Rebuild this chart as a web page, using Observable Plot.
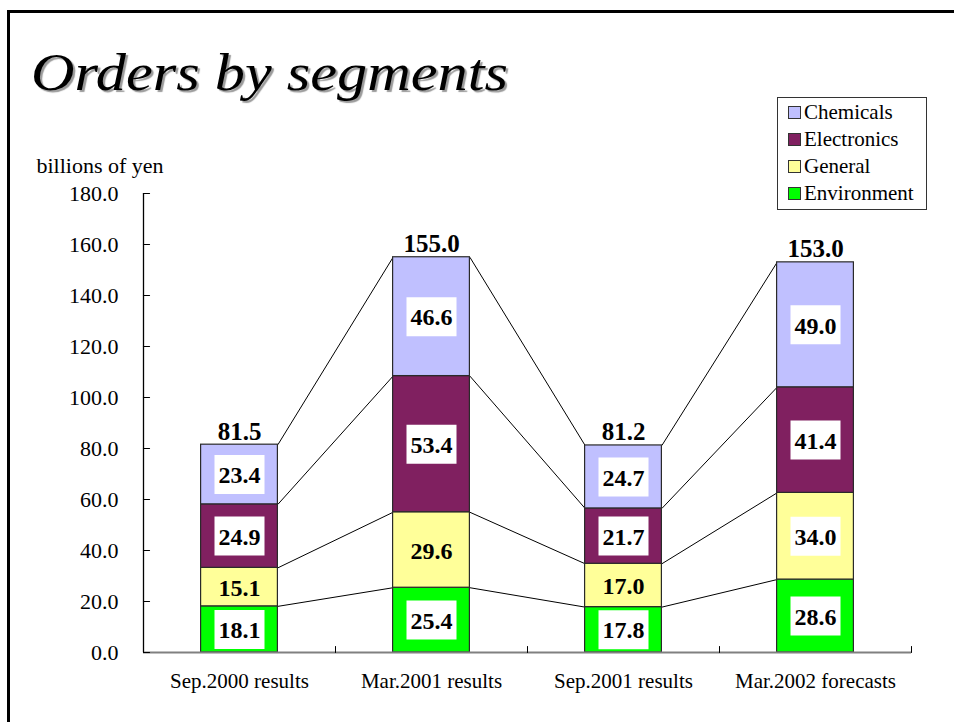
<!DOCTYPE html>
<html>
<head>
<meta charset="utf-8">
<script src="https://cdn.jsdelivr.net/npm/d3@7"></script>
<script src="https://cdn.jsdelivr.net/npm/@observablehq/plot@0.6"></script>
<style>
  body { margin: 0; background: #fff; }
  #wrap { position: relative; width: 954px; height: 722px; overflow: hidden; background: #fff; }
  #frame { position: absolute; left: 7px; top: 10px; width: 1000px; height: 800px;
           border-top: 3px solid #000; border-left: 3px solid #000; }
  #title { position: absolute; left: 31px; top: 47px; font-family: "Liberation Serif"; font-style: italic;
           font-size: 52px; line-height: 52px; color: #000; text-shadow: 2px 2px 1px #9a9a9a; white-space: nowrap;
           transform: scaleX(1.16); transform-origin: 0 0; }
  #ylabel { position: absolute; left: 30px; top: 155px; width: 140px; text-align: center;
            font-family: "Liberation Serif"; font-size: 22px; line-height: 22px; white-space: nowrap; }
  #legend { position: absolute; left: 777px; top: 97px; width: 150px; box-sizing: border-box;
            border: 1px solid #333; padding: 1px 0 2px 0; background: #fff; }
  .lrow { height: 27px; display: flex; align-items: center; font-family: "Liberation Serif";
          font-size: 21px; white-space: nowrap; }
  .sw { width: 13px; height: 13px; border: 1px solid #333; margin-left: 10px; margin-right: 3px; box-sizing: border-box; flex: none; }
  #chart { position: absolute; left: 0; top: 0; }
</style>
</head>
<body>
<div id="wrap">
  <div id="frame"></div>
  <div id="chart"></div>
  <div id="title">Orders by segments</div>
  <div id="ylabel">billions of yen</div>
  <div id="legend"></div>
</div>
<script>
const categories = ["Sep.2000 results", "Mar.2001 results", "Sep.2001 results", "Mar.2002 forecasts"];
const segments = ["Environment", "General", "Electronics", "Chemicals"];
const environment = [18.1, 25.4, 17.8, 28.6];
const general = [15.1, 29.6, 17.0, 34.0];
const electronics = [24.9, 53.4, 21.7, 41.4];
const chemicals = [23.4, 46.6, 24.7, 49.0];
const totals = [81.5, 155.0, 81.2, 153.0];
const colors = ["#00FF00", "#FFFF99", "#802060", "#C0C0FF"];
const yTicks = [0, 20, 40, 60, 80, 100, 120, 140, 160, 180];
const legendOrder = ["Chemicals", "Electronics", "General", "Environment"];

const series = [environment, general, electronics, chemicals];
const half = 0.2; // half bar width in band units

// stacked rows
const rows = [];
const tops = categories.map(() => []);
categories.forEach((c, i) => {
  let cum = 0;
  series.forEach((vals, k) => {
    const v = vals[i];
    rows.push({i, segment: segments[k], v, y1: cum, y2: cum + v, mid: cum + v / 2,
               boxed: !(segments[k] === "General" && i < categories.length - 1)});
    cum += v;
    tops[i].push(cum);
  });
});

// connectors between adjacent bars
const links = [];
for (let i = 0; i < categories.length - 1; i++) {
  for (let k = 0; k < segments.length; k++) {
    links.push({x1: i + half, x2: i + 1 - half, y1: tops[i][k], y2: tops[i + 1][k]});
  }
}

const boundaries = d3.range(categories.length + 1).map(i => i - 0.5);
const xMin = boundaries[0];

const tickShape = {draw(context, l) { context.moveTo(0, 0); context.lineTo(0, -l); }};
const boxSymbol = {draw(context) { context.rect(-25, -19.5, 50, 39); }};

const chart = Plot.plot({
  width: 954,
  height: 722,
  marginLeft: 143,
  marginRight: 43,
  marginTop: 193,
  marginBottom: 70,
  x: {domain: [xMin, boundaries[boundaries.length - 1]], axis: null},
  y: {domain: [0, 180], axis: null},
  color: {domain: segments, range: colors},
  style: {background: "transparent", fontFamily: "Liberation Serif", color: "#000", overflow: "visible"},
  marks: [
    Plot.link(links, {x1: "x1", x2: "x2", y1: "y1", y2: "y2", stroke: "#000", strokeWidth: 1}),
    Plot.rect(rows, {x1: d => d.i - half, x2: d => d.i + half, y1: "y1", y2: "y2",
                     fill: "segment", stroke: "#2a2a2a", strokeWidth: 1.2}),
    Plot.dot(rows.filter(d => d.boxed), {x: "i", y: "mid", symbol: boxSymbol, fill: "#fff", stroke: "none", r: 10}),
    Plot.text(rows, {x: "i", y: "mid", text: d => d.v.toFixed(1), fontSize: 24, fontWeight: "bold",
                     fontFamily: "Liberation Serif", fill: "#000", lineAnchor: "middle", dy: 1}),
    Plot.text(totals, {x: (d, i) => i, y: d => d, text: d => d.toFixed(1), fontSize: 25, fontWeight: "bold",
                       fontFamily: "Liberation Serif", fill: "#000", lineAnchor: "bottom", dy: -5}),
    Plot.ruleX([xMin], {y1: 0, y2: 180, stroke: "#000", strokeWidth: 1.3}),
    Plot.ruleY([0], {stroke: "#808080", strokeWidth: 2}),
    Plot.vector(yTicks, {y: d => d, frameAnchor: "left", rotate: 90, length: 6, anchor: "start",
                         shape: tickShape, stroke: "#000", strokeWidth: 1.2}),
    Plot.vector(boundaries, {x: d => d, frameAnchor: "bottom", rotate: 0, length: 6, anchor: "start",
                             shape: tickShape, stroke: "#000", strokeWidth: 1}),
    Plot.axisY(yTicks, {tickSize: 0, tickPadding: 25, tickFormat: d => d.toFixed(1), fontSize: 22,
                        fontFamily: "Liberation Serif", fill: "#000", label: null}),
    Plot.axisX(d3.range(categories.length), {tickSize: 0, tickPadding: 21, tickFormat: i => categories[i],
                        fontSize: 21, fontFamily: "Liberation Serif", fill: "#000", label: null})
  ]
});
document.getElementById("chart").appendChild(chart);

// legend
const leg = document.getElementById("legend");
legendOrder.forEach(name => {
  const row = document.createElement("div");
  row.className = "lrow";
  const sw = document.createElement("span");
  sw.className = "sw";
  sw.style.background = colors[segments.indexOf(name)];
  const t = document.createElement("span");
  t.textContent = name;
  row.appendChild(sw);
  row.appendChild(t);
  leg.appendChild(row);
});
</script>
</body>
</html>
